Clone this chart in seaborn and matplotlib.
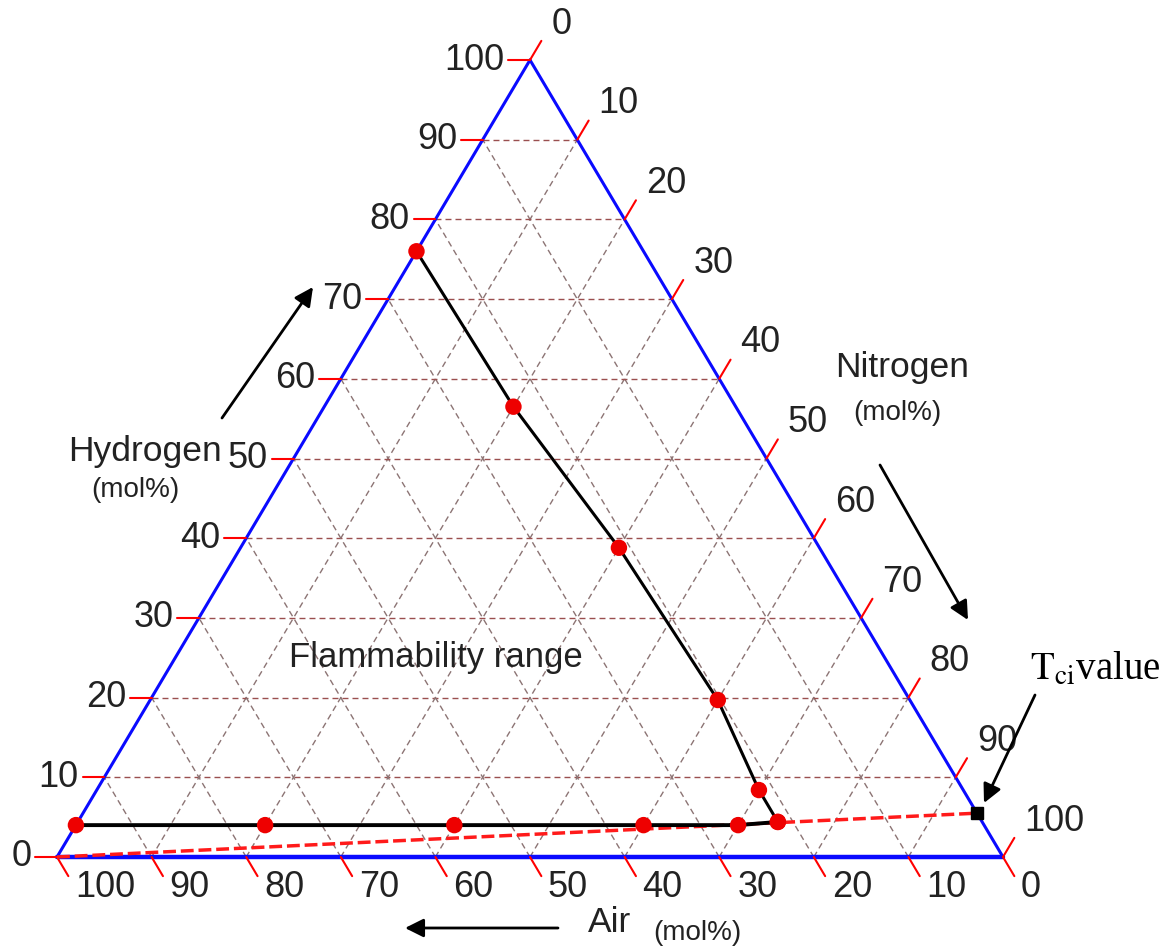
import numpy as np
import pandas as pd
import matplotlib
matplotlib.use('Agg')
import matplotlib.pyplot as plt
import seaborn as sns

# Flammability limits of H2 in air/N2 mixtures (mol%)
upper_h2 = [76.0, 56.5, 38.8, 19.7, 8.4, 4.4]
upper_n2 = [0, 20, 40, 60, 70, 74]
lower_h2 = [4.0, 4.0, 4.0, 4.0, 4.0, 4.4]
lower_n2 = [0, 20, 40, 60, 70, 74]
# Tci value on the air-free side
tci_h2 = 5.5
tci_n2 = 94.5
ticks = list(range(0, 101, 10))


def tern(h2, n2):
    # ternary -> cartesian (air vertex left, nitrogen right, hydrogen top)
    h2 = np.asarray(h2, float)
    n2 = np.asarray(n2, float)
    return n2 / 100 + h2 / 200, h2 / 100


def px(x, y):
    # pixel position of the reference image -> data coords (for annotations)
    return (x - 57) / 946, (857 - y) / 797


sns.set_style('white')
plt.rcParams['font.family'] = ['Liberation Sans', 'DejaVu Sans']
plt.rcParams['mathtext.fontset'] = 'stix'

fig = plt.figure(figsize=(11.65, 9.48), dpi=100)
ax = fig.add_axes([0, 0, 1, 1])
ax.set_xlim(-57 / 946, 1108 / 946)
ax.set_ylim(-91 / 797, 857 / 797)
ax.axis('off')

# grid
for k in range(10, 100, 10):
    x, y = tern([k, k], [0, 100 - k])
    ax.plot(x, y, ls=(0, (4.3, 2.9)), lw=1, color='#9a4f4f', zorder=1)
    x, y = tern([0, 100 - k], [k, k])
    ax.plot(x, y, ls=(0, (4.3, 2.9)), lw=1, color='#8c7474', zorder=1)
    x, y = tern([0, 100 - k], [100 - k, 0])
    ax.plot(x, y, ls=(0, (4.3, 2.9)), lw=1, color='#8c7474', zorder=1)

# triangle
x, y = tern([0, 100, 0], [0, 0, 100])
ax.plot(x[:2], y[:2], color='#0a0aff', lw=2.2, zorder=2)
ax.plot(x[1:], y[1:], color='#0a0aff', lw=2.2, zorder=2)
x, y = tern([0, 0], [0, 100])
ax.plot(x, y, color='#0a0aff', lw=3.2, zorder=2)

# ticks and labels
for k in ticks:
    x, y = tern([k, k], [0, -2.3])
    ax.plot(x, y, color='red', lw=1.5, zorder=2)
    x, y = tern(k, -2.7)
    ax.text(x, y, str(k), ha='right', va='center', fontsize=26, color='#222222')

    x, y = tern([100 - k, 102.4 - k], [k, k])
    ax.plot(x, y, color='red', lw=1.5, zorder=2)
    x, y = tern(104.5 - k, k)
    ax.text(x, y, str(k), ha='left', va='center', fontsize=26, color='#222222')

    x, y = tern([0, -2.4], [100 - k, 102.4 - k])
    ax.plot(x, y, color='red', lw=1.5, zorder=2)
    x, y = tern(-3.8, 103.8 - k)
    ax.text(x, y, str(k), ha='left', va='center', fontsize=26, color='#222222')

# red dashed line from pure air to Tci
x, y = tern([0, tci_h2], [0, tci_n2])
ax.plot(x, y, color='#ff1a1a', lw=2.5, ls=(0, (3.7, 1.4)), zorder=3)
tx, ty = tern(tci_h2, tci_n2)
ax.plot(tx, ty, marker='s', ms=9, color='black', zorder=5)

# flammability envelope
ux, uy = tern(upper_h2, upper_n2)
lx, ly = tern(lower_h2, lower_n2)
df_up = pd.DataFrame({'x': ux, 'y': uy})
df_lo = pd.DataFrame({'x': lx, 'y': ly})
sns.lineplot(data=df_up, x='x', y='y', sort=False, color='black', lw=2.2, ax=ax, zorder=4)
sns.lineplot(data=df_lo, x='x', y='y', sort=False, color='black', lw=2.8, ax=ax, zorder=4)
pts = pd.concat([df_up, df_lo])
sns.scatterplot(data=pts, x='x', y='y', color='#ee0000', s=140, edgecolor='none', ax=ax, zorder=6)

# axis names
ax.text(*px(145, 452), 'Hydrogen', ha='center', va='center', fontsize=25.5, color='#222222')
ax.text(*px(135, 490), '(mol%)', ha='center', va='center', fontsize=20, color='#222222')
ax.text(*px(902, 368), 'Nitrogen', ha='center', va='center', fontsize=25.5, color='#222222')
ax.text(*px(897, 413), '(mol%)', ha='center', va='center', fontsize=20, color='#222222')
ax.text(*px(610, 922), 'Air', ha='center', va='center', fontsize=25.5, color='#222222')
ax.text(*px(697, 933), '(mol%)', ha='center', va='center', fontsize=20, color='#222222')
ax.text(*px(436, 658), 'Flammability range', ha='center', va='center', fontsize=25, color='#222222')
ax.text(*px(1095, 670), r'$\mathrm{T_{ci}}$value', ha='center', va='center', fontsize=28,
        family='Liberation Serif', color='black')

arrow = dict(arrowstyle='-|>', mutation_scale=28, lw=2, color='black', shrinkA=0, shrinkB=0)
ax.annotate('', xy=px(313, 287), xytext=px(222, 418), arrowprops=arrow)
ax.annotate('', xy=px(968, 620), xytext=px(880, 465), arrowprops=arrow)
ax.annotate('', xy=px(405, 928), xytext=px(558, 928), arrowprops=arrow)
ax.annotate('', xy=px(984, 803), xytext=px(1035, 695), arrowprops=arrow)

fig.savefig('out.png', dpi=100)
